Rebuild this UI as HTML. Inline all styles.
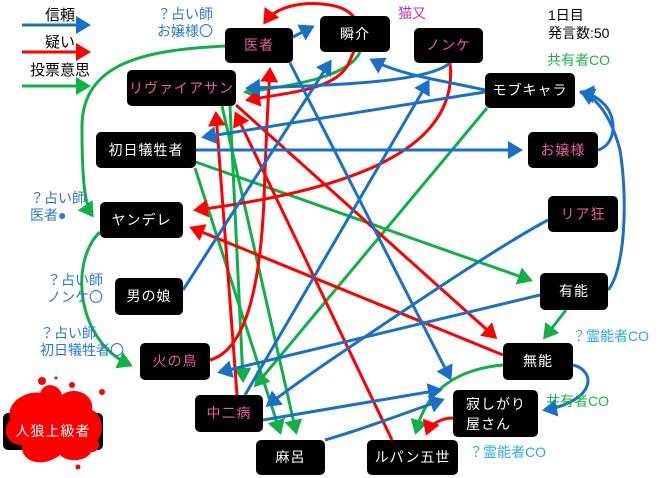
<!DOCTYPE html>
<html><head><meta charset="utf-8"><style>
body{margin:0;width:660px;height:478px;background:#fff;overflow:hidden;position:relative;font-family:"Liberation Sans","Noto Sans CJK JP",sans-serif}
.n{position:absolute;background:#000;color:#fff;border-radius:5px;display:flex;align-items:center;justify-content:center;font-size:14px;line-height:17px;text-align:center;letter-spacing:1px}
.p{color:#ea5ba6}
.t{position:absolute;font-size:13px;line-height:16px;white-space:nowrap}
.b{color:#2a7ac8}.g{color:#1fb24a}.lb{color:#2aa8e8}
svg{position:absolute;left:0;top:0}
</style></head><body>
<svg width="660" height="478" viewBox="0 0 660 478">
<defs>
<marker id="mb" markerWidth="6" markerHeight="6" refX="4" refY="3" orient="auto" markerUnits="strokeWidth"><path d="M0,0L5,3L0,6z" fill="#1a6fc6"/></marker>
<marker id="mr" markerWidth="6" markerHeight="6" refX="4" refY="3" orient="auto" markerUnits="strokeWidth"><path d="M0,0L5,3L0,6z" fill="#ff0000"/></marker>
<marker id="mg" markerWidth="6" markerHeight="6" refX="4" refY="3" orient="auto" markerUnits="strokeWidth"><path d="M0,0L5,3L0,6z" fill="#10b048"/></marker>
</defs>
<g fill="none" stroke-width="3">
<!-- legend -->
<path d="M22,25H88" stroke="#1a6fc6" marker-end="url(#mb)"/>
<path d="M22,52H88" stroke="#ff0000" marker-end="url(#mr)"/>
<path d="M22,86H88" stroke="#10b048" marker-end="url(#mg)"/>
<!-- green -->
<g stroke="#10b048" marker-end="url(#mg)">
<path d="M225,46C150,50 80,60 82,130C82,180 85,205 92,215"/>
<path d="M100,232C70,260 75,340 130,365"/>
<path d="M360,52C350,75 300,85 246,92"/>
<path d="M230,106L243,380"/>
<path d="M222,106L296,432"/>
<path d="M195,168L280,432"/>
<path d="M487,108L256,385"/>
<path d="M190,160L530,280"/>
<path d="M566,310L545,337"/>
<path d="M503,365C470,368 445,380 430,400C420,415 418,425 416,432"/>
</g>
<!-- red -->
<g stroke="#ff0000" marker-end="url(#mr)">
<path d="M350,60C340,90 290,92 248,100"/>
<path d="M350,60C365,30 360,10 330,5C300,0 275,8 265,22"/>
<path d="M450,63C460,150 350,190 196,210"/>
<path d="M503,355L192,228"/>
<path d="M236,105L495,337"/>
<path d="M210,360C245,350 260,290 264,200C266,140 268,100 270,70"/>
<path d="M237,395L216,114"/>
<path d="M392,440L236,114"/>
<path d="M453,418C440,418 430,425 427,433"/>
</g>
<!-- blue -->
<g stroke="#1a6fc6" marker-end="url(#mb)">
<path d="M293,37L312,27"/>
<path d="M290,63L450,378"/>
<path d="M196,150H520"/>
<path d="M485,92L204,137"/>
<path d="M485,90C440,80 400,75 372,60"/>
<path d="M450,63C430,80 360,85 248,88"/>
<path d="M245,395L428,82"/>
<path d="M183,290L330,62"/>
<path d="M540,295L220,372"/>
<path d="M548,220C520,235 480,260 420,300C360,340 300,380 268,405"/>
<path d="M608,290C625,270 628,200 620,150C612,120 600,100 582,92"/>
<path d="M598,150C615,145 618,120 605,105C598,98 592,94 582,93"/>
<path d="M573,365C595,370 598,400 545,410"/>
<path d="M263,420L440,390"/>
<path d="M325,440C360,430 400,415 442,400"/>
</g>
</g>
<!-- blood -->
<g fill="#ff0000">
<path d="M10,420C5,400 30,390 40,393C45,380 60,385 62,395C75,385 95,395 92,410C105,415 105,440 92,445C95,460 70,465 60,455C40,470 20,460 22,445C5,445 2,428 10,420z"/>
<circle cx="42" cy="381" r="4"/><circle cx="72" cy="385" r="3"/><circle cx="102" cy="392" r="3"/><circle cx="56" cy="378" r="1.5"/><circle cx="78" cy="467" r="2.5"/><circle cx="92" cy="445" r="7"/>
</g>
</svg>
<div class="n" style="left:3px;top:413px;width:100px;height:37px;background:transparent;border:0;z-index:0"></div>
<div class="t" style="left:8px;top:8px;font-size:15px;left:45px">信頼</div>
<div class="t" style="left:45px;top:35px;font-size:15px">疑い</div>
<div class="t" style="left:30px;top:63px;font-size:15px">投票意思</div>

<div class="t b" style="left:157px;top:6px;font-size:14px;line-height:17px">？占い師<br>お嬢様〇</div>
<div class="t b" style="left:30px;top:190px;font-size:14px;line-height:17px">？占い師<br>医者●</div>
<div class="t b" style="left:47px;top:272px;font-size:14px;line-height:17px">？占い師<br>ノンケ〇</div>
<div class="t b" style="left:40px;top:325px;font-size:14px;line-height:17px">？占い師<br>初日犠牲者〇</div>
<div class="t" style="left:398px;top:5px;color:#cc33aa;font-size:14px">猫又</div>
<div class="t" style="left:548px;top:6px;font-size:14px;line-height:18px">1日目<br>発言数:50</div>
<div class="t g" style="left:547px;top:52px;font-size:14px">共有者CO</div>
<div class="t lb" style="left:572px;top:328px;font-size:14px">？霊能者CO</div>
<div class="t g" style="left:546px;top:393px;font-size:14px">共有者CO</div>
<div class="t lb" style="left:469px;top:444px;font-size:14px">？霊能者CO</div>

<div class="n p" style="left:225px;top:28px;width:68px;height:35px">医者</div>
<div class="n" style="left:320px;top:16px;width:70px;height:36px">瞬介</div>
<div class="n p" style="left:414px;top:28px;width:69px;height:35px">ノンケ</div>
<div class="n p" style="left:127px;top:70px;width:109px;height:36px">リヴァイアサン</div>
<div class="n" style="left:485px;top:73px;width:90px;height:35px">モブキャラ</div>
<div class="n" style="left:96px;top:132px;width:100px;height:36px">初日犠牲者</div>
<div class="n p" style="left:528px;top:132px;width:70px;height:36px">お嬢様</div>
<div class="n" style="left:100px;top:202px;width:83px;height:36px">ヤンデレ</div>
<div class="n p" style="left:548px;top:196px;width:70px;height:36px">リア狂</div>
<div class="n" style="left:540px;top:273px;width:68px;height:37px">有能</div>
<div class="n" style="left:115px;top:278px;width:68px;height:37px">男の娘</div>
<div class="n" style="left:503px;top:343px;width:70px;height:37px">無能</div>
<div class="n p" style="left:140px;top:343px;width:70px;height:37px">火の鳥</div>
<div class="n p" style="left:195px;top:395px;width:68px;height:37px">中二病</div>
<div class="n" style="left:453px;top:390px;width:85px;height:47px;line-height:20px;text-align:left;justify-content:flex-start;padding-left:13px;box-sizing:border-box">寂しがり<br>屋さん</div>
<div class="n" style="left:256px;top:440px;width:69px;height:35px">麻呂</div>
<div class="n" style="left:367px;top:440px;width:91px;height:35px">ルパン五世</div>
<div class="n" style="left:3px;top:413px;width:100px;height:37px;background:rgba(0,0,0,0.0);z-index:2">人狼上級者</div>
<div class="n" style="left:3px;top:413px;width:100px;height:37px;z-index:-1"></div>
</body></html>
